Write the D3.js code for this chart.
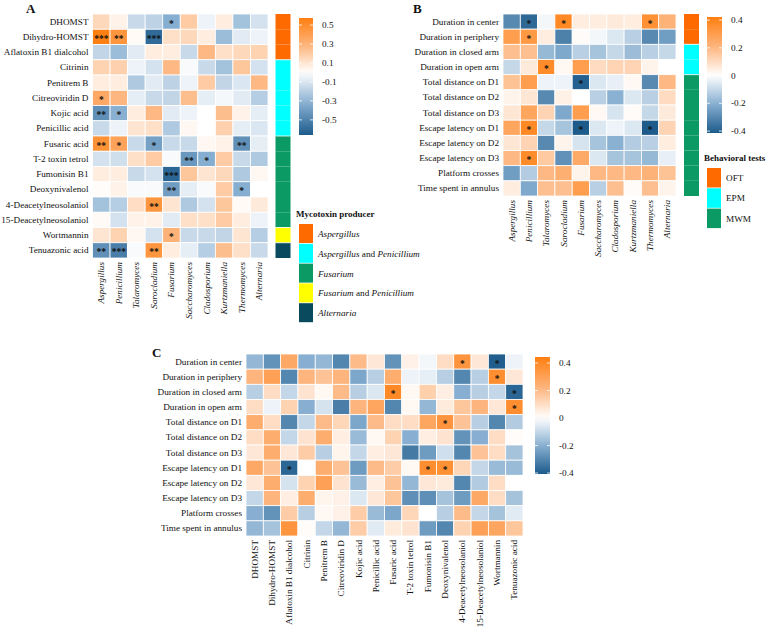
<!DOCTYPE html>
<html>
<head>
<meta charset="utf-8">
<script src="https://cdn.jsdelivr.net/npm/d3@7"></script>
<style>
  body { margin: 0; background: #fff; }
  text { font-family: "Liberation Serif", "Times New Roman", serif; fill: #111; }
</style>
</head>
<body>
<div id="chart"></div>
<script>
// genera (fungi) columns for A and B
const genera = ["Aspergillus", "Penicillium", "Talaromyces", "Sarocladium", "Fusarium",
  "Saccharomyces", "Cladosporium", "Kurtzmaniella", "Thermomyces", "Alternaria"];

const toxins = ["DHOMST", "Dihydro-HOMST", "Aflatoxin B1 dialcohol", "Citrinin", "Penitrem B",
  "Citreoviridin D", "Kojic acid", "Penicillic acid", "Fusaric acid", "T-2 toxin tetrol",
  "Fumonisin B1", "Deoxynivalenol", "4-Deacetylneosolaniol", "15-Deacetylneosolaniol",
  "Wortmannin", "Tenuazonic acid"];

const behaviors = ["Duration in center", "Duration in periphery", "Duration in closed arm",
  "Duration in open arm", "Total distance on D1", "Total distance on D2", "Total distance on D3",
  "Escape latency on D1", "Escape latency on D2", "Escape latency on D3", "Platform crosses",
  "Time spent in annulus"];

const producers = ["Aspergillus", "Aspergillus and Penicillium", "Fusarium",
  "Fusarium and Penicillium", "Alternaria"];
const producerOfToxin = [0, 0, 0, 1, 1, 1, 1, 1, 2, 2, 2, 2, 2, 2, 3, 4];
const producerColors = ["#ff6a00", "#00ffff", "#0b9a63", "#ffff00", "#0a4a5e"];

const tests = ["OFT", "EPM", "MWM"];
const testOfBehavior = [0, 0, 1, 1, 2, 2, 2, 2, 2, 2, 2, 2];
const testColors = ["#ff6a00", "#00ffff", "#0b9a63"];

// A: toxins x genera
const valuesA = [
  [0.15, 0.05, -0.15, -0.18, -0.33, 0.2, -0.05, 0.07, -0.25, -0.12],
  [0.57, 0.45, 0.02, -0.6, 0.12, 0.15, 0.07, -0.27, -0.08, -0.05],
  [-0.17, -0.27, -0.08, 0.07, 0.07, -0.15, 0.27, 0.12, 0.15, 0.17],
  [0.17, 0.18, -0.05, -0.12, 0.27, -0.02, -0.15, -0.25, 0.22, -0.12],
  [0.07, 0.07, -0.22, -0.08, -0.18, -0.05, 0.2, -0.17, -0.1, 0.27],
  [0.35, 0.28, -0.07, -0.15, -0.17, 0.25, -0.07, -0.03, -0.08, -0.2],
  [-0.45, -0.32, 0.07, 0.27, -0.08, -0.05, 0, 0.25, 0.05, -0.07],
  [-0.15, -0.05, 0.1, 0.12, -0.22, 0.03, 0, 0.18, -0.07, -0.1],
  [0.47, 0.38, -0.15, -0.38, -0.15, -0.15, 0.03, 0.05, -0.45, -0.07],
  [-0.12, -0.13, 0.12, 0.2, -0.02, -0.42, -0.33, 0.2, -0.15, -0.22],
  [0.07, 0.07, -0.15, -0.12, -0.62, 0.22, 0.1, 0.15, -0.22, 0.03],
  [0.01, 0.05, -0.02, -0.02, -0.4, -0.07, -0.02, 0.2, -0.33, 0],
  [-0.25, -0.2, 0.13, 0.45, 0.1, -0.22, -0.12, 0.22, 0.02, 0.08],
  [0.02, -0.12, 0.05, 0.05, -0.08, 0.12, 0.12, 0.2, 0.07, -0.05],
  [0.1, 0.17, 0.03, -0.12, 0.3, -0.15, -0.15, -0.17, 0.1, -0.2],
  [-0.45, -0.52, -0.02, 0.45, 0.07, -0.07, -0.2, 0.25, 0.12, -0.15]
];
const starsA = [[0, 4, "*"], [1, 0, "***"], [1, 1, "**"], [1, 3, "***"], [5, 0, "*"],
  [6, 0, "**"], [6, 1, "*"], [8, 0, "**"], [8, 1, "*"], [8, 3, "*"], [8, 8, "**"],
  [9, 5, "**"], [9, 6, "*"], [10, 4, "***"], [11, 4, "**"], [11, 8, "*"], [12, 3, "**"],
  [14, 4, "*"], [15, 0, "**"], [15, 1, "***"], [15, 3, "**"]];

// B: behaviors x genera
const valuesB = [
  [-0.3, -0.38, -0.02, 0.38, 0.05, 0.05, 0.06, 0.05, 0.35, 0.22],
  [0.3, 0.32, 0.05, -0.32, 0.01, -0.02, -0.06, -0.12, -0.3, -0.25],
  [0.18, 0.18, -0.18, -0.22, -0.12, -0.15, -0.1, -0.17, -0.12, -0.1],
  [-0.1, 0.06, 0.37, 0.02, 0.3, 0.1, 0.12, 0.12, 0.03, 0],
  [0.17, 0.3, -0.03, -0.03, -0.4, -0.06, -0.04, 0.02, -0.3, 0.2],
  [0.03, 0.07, -0.3, 0.04, 0, -0.12, -0.2, -0.06, -0.12, 0.1],
  [0.07, 0.27, 0.12, -0.22, 0.3, 0.02, -0.07, 0.01, -0.1, 0.06],
  [0.27, 0.38, -0.1, -0.15, -0.42, -0.06, -0.03, -0.06, -0.42, 0.12],
  [0.07, 0.12, -0.3, 0.03, -0.07, -0.15, -0.2, -0.13, -0.12, 0.05],
  [0.2, 0.37, 0.15, -0.28, 0.25, -0.06, -0.15, -0.15, -0.18, -0.04],
  [-0.25, -0.13, 0.2, 0.23, 0.03, 0.2, 0.2, 0.2, 0.22, 0.17],
  [0.05, -0.22, 0.18, 0.18, 0.3, -0.12, 0.18, 0.01, 0.18, 0.03]
];
const starsB = [[0, 1, "*"], [0, 3, "*"], [0, 8, "*"], [1, 1, "*"], [3, 2, "*"], [4, 4, "*"],
  [7, 1, "*"], [7, 4, "*"], [7, 8, "*"], [9, 1, "*"]];

// C: behaviors x toxins
const valuesC = [
  [-0.18, -0.27, 0.27, -0.2, -0.18, -0.3, 0.2, 0.07, -0.27, 0.04, -0.02, 0.1, 0.35, 0.07, -0.4, -0.03],
  [0.22, 0.3, -0.3, 0.22, 0.18, 0.22, -0.22, -0.12, 0.25, -0.03, -0.04, -0.12, -0.3, -0.12, 0.38, 0.07],
  [-0.12, 0.1, -0.1, 0.08, 0.02, 0.2, -0.12, -0.06, 0.4, 0.02, 0.14, 0.05, -0.2, -0.12, -0.1, -0.38],
  [0.1, -0.03, 0.13, -0.2, -0.07, -0.32, 0.22, 0.28, -0.3, 0.02, -0.18, 0.06, 0.17, 0.22, 0.07, 0.38],
  [0.25, 0.1, -0.3, -0.1, 0.2, 0.12, -0.22, 0.2, 0.1, 0.1, 0.28, 0.35, 0.18, -0.12, -0.3, -0.13],
  [0.1, 0.25, -0.1, 0.08, 0.25, 0.05, -0.17, 0.02, 0.13, -0.2, 0.05, 0.08, -0.27, -0.2, 0.1, 0.01],
  [0.07, 0.25, 0.07, 0.15, -0.12, 0.03, -0.1, 0.05, 0.07, -0.33, -0.25, -0.08, -0.3, 0.18, 0.1, -0.15],
  [0.27, 0.18, -0.38, 0, 0.25, 0.18, -0.25, 0.2, 0.15, 0.02, 0.38, 0.37, 0.12, -0.1, -0.17, -0.17],
  [0.07, 0.25, -0.07, 0.13, 0.3, 0.08, -0.17, 0.05, 0.18, -0.18, 0.07, 0.06, -0.3, -0.13, 0.1, 0],
  [-0.1, 0.22, 0.05, 0.25, 0.03, 0.04, -0.06, 0.07, 0.17, -0.28, -0.28, -0.15, -0.25, 0.27, 0.1, -0.15],
  [-0.2, -0.27, 0.15, -0.12, 0.02, 0.04, 0.15, -0.17, -0.22, 0.12, 0, -0.12, 0.2, -0.1, -0.15, -0.05],
  [-0.18, -0.15, 0.35, 0.01, -0.1, -0.18, 0.15, -0.05, 0.06, 0.08, -0.25, -0.3, 0.13, 0.3, 0.28, 0.17]
];
const starsC = [[0, 12, "*"], [0, 14, "*"], [1, 14, "*"], [2, 8, "*"], [2, 15, "*"], [3, 15, "*"],
  [4, 11, "*"], [7, 2, "*"], [7, 10, "*"], [7, 11, "*"]];

const ticksA = [0.5, 0.3, 0.1, -0.1, -0.3, -0.5];
const ticksBC = [0.4, 0.2, 0, -0.2, -0.4];

const RAMP = ["#1d5b8b", "#86aed0", "#ffffff", "#fdb47c", "#ff7f10"];
const FS = 9.2;

const svg = d3.select("#chart").append("svg")
  .attr("width", 767).attr("height", 627);
const defs = svg.append("defs");

// lo/hi are the ends of the legend bar, colours saturate there
function makeColor(lo, hi) {
  return d3.scaleLinear().domain([lo, lo / 2, 0, hi / 2, hi]).range(RAMP).clamp(true);
}

function heatmap(rows, cols, values, stars, box, color) {
  const g = svg.append("g");
  const x = d3.scaleBand().domain(cols).range([box.x0, box.x1]);
  const y = d3.scaleBand().domain(rows).range([box.y0, box.y1]);
  const cells = values.flatMap((r, i) => r.map((v, j) => ({ row: rows[i], col: cols[j], v })));

  g.append("g").selectAll("rect").data(cells).join("rect")
    .attr("x", d => x(d.col)).attr("y", d => y(d.row))
    .attr("width", x.bandwidth()).attr("height", y.bandwidth())
    .attr("fill", d => color(d.v))
    .attr("stroke", "#fff").attr("stroke-width", 0.8);

  g.append("g").selectAll("text").data(stars).join("text")
    .attr("x", d => x(cols[d[1]]) + x.bandwidth() / 2)
    .attr("y", d => y(rows[d[0]]) + y.bandwidth() / 2 + 5)
    .attr("text-anchor", "middle")
    .attr("font-size", 9.5).attr("font-weight", "bold")
    .text(d => d[2]);

  g.append("g").selectAll("text").data(rows).join("text")
    .attr("x", box.x0 - 4)
    .attr("y", d => y(d) + y.bandwidth() / 2)
    .attr("text-anchor", "end").attr("dominant-baseline", "central")
    .attr("font-size", FS)
    .text(d => d);

  g.append("g").selectAll("text").data(cols).join("text")
    .attr("transform", d => `translate(${x(d) + x.bandwidth() / 2},${box.y1 + 4}) rotate(-90)`)
    .attr("text-anchor", "end").attr("dominant-baseline", "central")
    .attr("font-size", FS)
    .attr("font-style", box.italicCols ? "italic" : "normal")
    .text(d => d);

  return y;
}

function annotationBar(y, rows, groupOf, colors, x0, w) {
  svg.append("g").selectAll("rect").data(rows).join("rect")
    .attr("x", x0).attr("y", d => y(d))
    .attr("width", w).attr("height", y.bandwidth())
    .attr("fill", (d, i) => colors[groupOf[i]]);
  // thin separators between groups
  svg.append("g").selectAll("line")
    .data(rows.filter((d, i) => i > 0 && groupOf[i] !== groupOf[i - 1]))
    .join("line")
    .attr("x1", x0).attr("x2", x0 + w)
    .attr("y1", d => y(d)).attr("y2", d => y(d))
    .attr("stroke", "#fff").attr("stroke-width", 0.8);
}

function colorbar(id, color, lo, hi, ticks, box) {
  const grad = defs.append("linearGradient").attr("id", id)
    .attr("x1", 0).attr("y1", 1).attr("x2", 0).attr("y2", 0);
  grad.selectAll("stop").data(d3.range(0, 1.0001, 0.05)).join("stop")
    .attr("offset", t => t)
    .attr("stop-color", t => color(lo + t * (hi - lo)));
  svg.append("rect")
    .attr("x", box.x).attr("y", box.y0)
    .attr("width", box.w).attr("height", box.y1 - box.y0)
    .attr("fill", `url(#${id})`);
  const s = d3.scaleLinear().domain([lo, hi]).range([box.y1, box.y0]);
  const g = svg.append("g");
  ticks.forEach(t => {
    g.append("line").attr("x1", box.x).attr("x2", box.x + 3)
      .attr("y1", s(t)).attr("y2", s(t)).attr("stroke", "#fff").attr("stroke-width", 0.8);
    g.append("line").attr("x1", box.x + box.w - 3).attr("x2", box.x + box.w)
      .attr("y1", s(t)).attr("y2", s(t)).attr("stroke", "#fff").attr("stroke-width", 0.8);
    g.append("text").attr("x", box.x + box.w + 9).attr("y", s(t))
      .attr("dominant-baseline", "central").attr("font-size", FS)
      .text(String(t));
  });
}

function keyLegend(title, labels, colors, x, y0, step, italicFn) {
  svg.append("text").attr("x", x - 3).attr("y", y0 - 7)
    .attr("font-size", 9).attr("font-weight", "bold").text(title);
  const g = svg.append("g");
  labels.forEach((lab, i) => {
    g.append("rect").attr("x", x).attr("y", y0 + i * step)
      .attr("width", 14).attr("height", step - 0.8).attr("fill", colors[i]);
    const t = g.append("text").attr("x", x + 19).attr("y", y0 + i * step + step / 2)
      .attr("dominant-baseline", "central").attr("font-size", FS);
    italicFn(lab).forEach(p => {
      t.append("tspan").attr("font-style", p[1] ? "italic" : "normal").text(p[0]);
    });
  });
}

function splitItalic(lab) {
  // genus names italic, the word "and" upright
  const parts = lab.split(" and ");
  if (parts.length === 1) return [[lab, true]];
  return [[parts[0], true], [" and ", false], [parts[1], true]];
}

// ---- Panel A ----
const colorA = makeColor(-0.66, 0.574);
const yA = heatmap(toxins, genera, valuesA, starsA,
  { x0: 92.5, x1: 268, y0: 14, y1: 258, italicCols: true }, colorA);
annotationBar(yA, toxins, producerOfToxin, producerColors, 275.5, 15);
colorbar("gradA", colorA, -0.66, 0.574, ticksA, { x: 299, w: 14, y0: 18, y1: 135 });
keyLegend("Mycotoxin producer", producers, producerColors, 299, 224, 19.8, splitItalic);

// ---- Panel B ----
const colorB = makeColor(-0.414, 0.422);
const yB = heatmap(behaviors, genera, valuesB, starsB,
  { x0: 503, x1: 676, y0: 14, y1: 196, italicCols: true }, colorB);
annotationBar(yB, behaviors, testOfBehavior, testColors, 684, 15);
colorbar("gradB", colorB, -0.414, 0.422, ticksBC, { x: 707, w: 15, y0: 17, y1: 133 });
keyLegend("Behavioral tests", tests, testColors, 707, 168, 20.3, l => [[l, false]]);

// ---- Panel C ----
const colorC = makeColor(-0.407, 0.444);
heatmap(behaviors, toxins, valuesC, starsC,
  { x0: 246, x1: 523, y0: 354, y1: 536, italicCols: false }, colorC);
colorbar("gradC", colorC, -0.407, 0.444, ticksBC, { x: 535, w: 15, y0: 357, y1: 474 });

// panel letters
[["A", 26, 13], ["B", 413, 13], ["C", 152, 357]].forEach(p => {
  svg.append("text").attr("x", p[1]).attr("y", p[2])
    .attr("font-size", 13).attr("font-weight", "bold").text(p[0]);
});
</script>
</body>
</html>
